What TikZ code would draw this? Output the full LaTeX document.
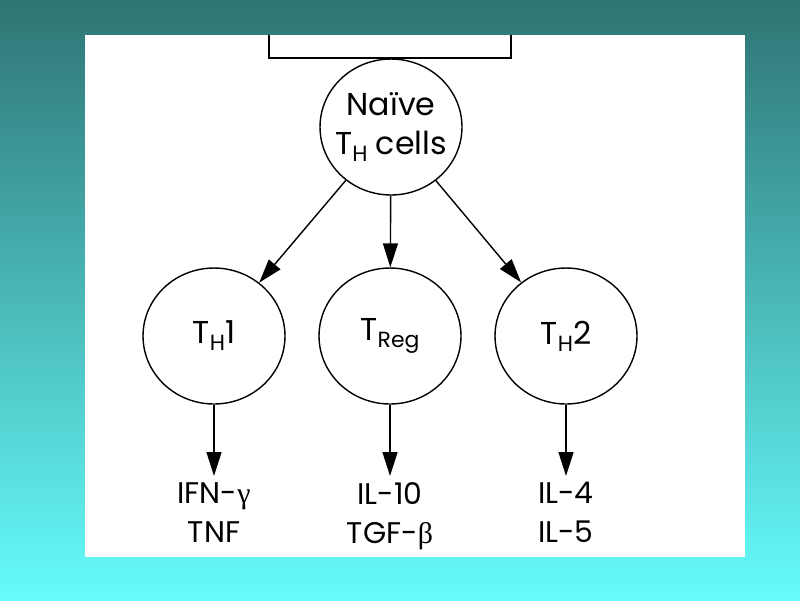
\documentclass[tikz,border=0pt]{standalone}
\usepackage{fontspec}
\setmainfont{Poppins}
\newfontfamily\greekfont{Liberation Serif}
\usetikzlibrary{arrows.meta,shapes.geometric}
\definecolor{bgtop}{HTML}{2F7474}
\definecolor{bgbot}{HTML}{66FCFC}
\newcommand\cellsub[1]{\raisebox{-.22em}{\fontsize{12.5}{12.5}\selectfont#1}}
\newcommand\gr[1]{{\greekfont#1}}
\tikzset{cell/.style={draw,ellipse,minimum width=2.84cm,minimum height=2.72cm,inner sep=-1cm,align=center,font=\fontsize{18}{22.5}\selectfont},
  cyto/.style={align=center,anchor=north,font=\fontsize{17}{22}\selectfont},
  arr/.style={-{Triangle[length=0.48cm,width=0.3cm]}}}
\begin{document}
\begin{tikzpicture}[x=0.02cm,y=-0.02cm,line width=0.8pt]
\shade[top color=bgtop,bottom color=bgbot](0,0)rectangle(800,600);
\fill[white](85,35)rectangle(745,557);
\draw(269,35)|-(511,58)--(511,35);
\node[cell](naive)at(391,127){Naïve\\T\cellsub{H} cells};
\foreach \n/\x/\t/\c in {th1/214/{T\cellsub{H}1}/{IFN-\gr{γ}\\TNF},treg/390/{T\cellsub{Reg}}/{IL-10\\TGF-\gr{β}},th2/566/{T\cellsub{H}2}/{IL-4\\IL-5}}{
  \node[cell](\n)at(\x,336){\t};
  \node[cyto](\n c)at(\x,476){\c};
  \draw[arr](naive)--(\n);
  \draw[arr](\n)--(\n c);
}
\end{tikzpicture}
\end{document}
